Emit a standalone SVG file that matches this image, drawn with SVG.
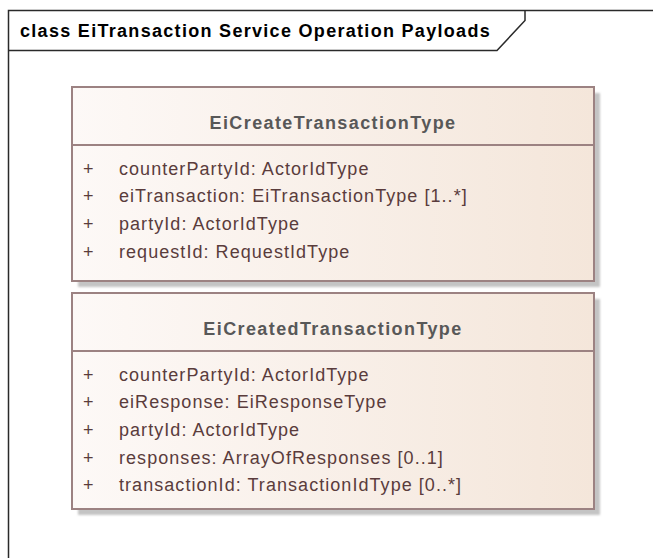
<svg xmlns="http://www.w3.org/2000/svg" width="653" height="558" viewBox="0 0 653 558">
  <defs>
    <linearGradient id="fillG" x1="0" y1="0" x2="1" y2="0">
      <stop offset="0" stop-color="#fdf9f7"/>
      <stop offset="1" stop-color="#f4e6da"/>
    </linearGradient>
    <filter id="blur" x="-5%" y="-5%" width="110%" height="110%">
      <feGaussianBlur stdDeviation="1"/>
    </filter>
  </defs>
  <style>
    .frame { fill: none; stroke: #2a2a2a; stroke-width: 1.5; }
    .title { font-family: "Liberation Sans", Arial, sans-serif; font-weight: bold; font-size: 18px; letter-spacing: 1.3px; fill: #000; }
    .shadow { fill: #c4c4c4; filter: url(#blur); }
    .box { fill: url(#fillG); stroke: #9c8282; stroke-width: 2; }
    .sep { stroke: #9c8282; stroke-width: 2; }
    .hdr { font-family: "Liberation Sans", Arial, sans-serif; font-weight: bold; font-size: 18px; letter-spacing: 1.4px; fill: #585858; text-anchor: middle; }
    .attr { font-family: "Liberation Sans", Arial, sans-serif; font-size: 18px; letter-spacing: 1.05px; fill: #5a3c3c; }
  </style>
  <rect width="653" height="558" fill="#fff"/>
  <g id="frame">
    <path class="frame" d="M8.5,560 V10.5 H660"/>
    <path class="frame" d="M8.5,50.5 H497 L525,20.5 V10.5"/>
    <text class="title" x="20" y="37">class EiTransaction Service Operation Payloads</text>
  </g>
  <g id="EiCreateTransactionType">
    <rect class="shadow" x="78" y="93" width="522" height="194"/>
    <rect class="box" x="72" y="87" width="522" height="194"/>
    <line class="sep" x1="72" y1="145" x2="594" y2="145"/>
    <text class="hdr" x="333" y="129">EiCreateTransactionType</text>
    <g class="attr">
      <text x="83" y="174.5">+</text><text x="119" y="174.5">counterPartyId: ActorIdType</text>
      <text x="83" y="202.2">+</text><text x="119" y="202.2">eiTransaction: EiTransactionType [1..*]</text>
      <text x="83" y="229.9">+</text><text x="119" y="229.9">partyId: ActorIdType</text>
      <text x="83" y="257.6">+</text><text x="119" y="257.6">requestId: RequestIdType</text>
    </g>
  </g>
  <g id="EiCreatedTransactionType">
    <rect class="shadow" x="78" y="299" width="522" height="216"/>
    <rect class="box" x="72" y="293" width="522" height="216"/>
    <line class="sep" x1="72" y1="351" x2="594" y2="351"/>
    <text class="hdr" x="333" y="335">EiCreatedTransactionType</text>
    <g class="attr">
      <text x="83" y="380.5">+</text><text x="119" y="380.5">counterPartyId: ActorIdType</text>
      <text x="83" y="408.2">+</text><text x="119" y="408.2">eiResponse: EiResponseType</text>
      <text x="83" y="435.9">+</text><text x="119" y="435.9">partyId: ActorIdType</text>
      <text x="83" y="463.6">+</text><text x="119" y="463.6">responses: ArrayOfResponses [0..1]</text>
      <text x="83" y="491.3">+</text><text x="119" y="491.3">transactionId: TransactionIdType [0..*]</text>
    </g>
  </g>
  <g id="connectors"/>
</svg>
